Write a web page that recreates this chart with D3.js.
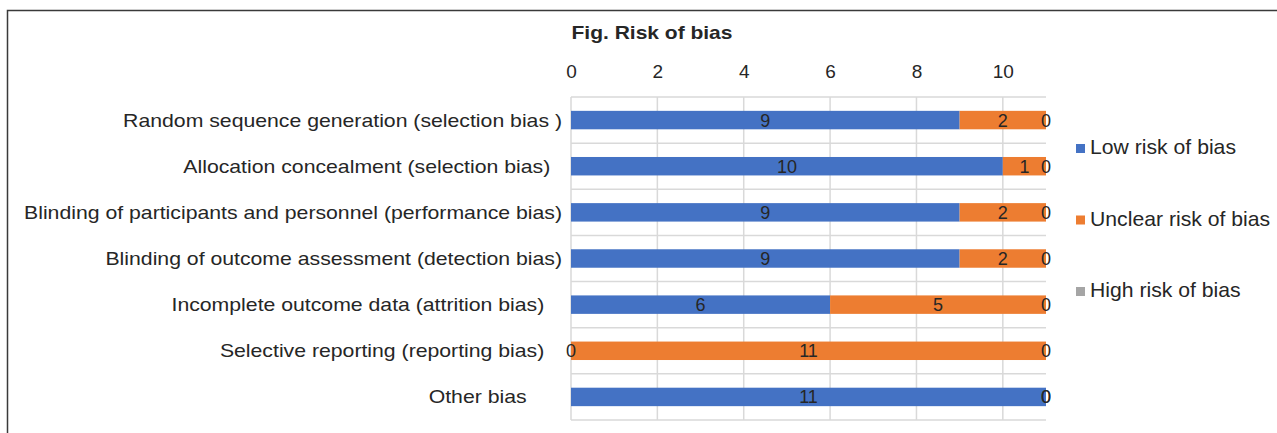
<!DOCTYPE html>
<html>
<head>
<meta charset="utf-8">
<script src="https://cdn.jsdelivr.net/npm/d3@7"></script>
<style>
  html, body { margin: 0; padding: 0; background: #fff; }
  svg { display: block; font-family: "Liberation Sans", Arial, sans-serif; }
</style>
</head>
<body>
<svg id="chart" width="1277" height="433"></svg>
<script>
// categories (trailing spaces kept as in the source sheet)
var categories = [
  'Random sequence generation (selection bias )',
  'Allocation concealment (selection bias)  ',
  'Blinding of participants and personnel (performance bias)',
  'Blinding of outcome assessment (detection bias)',
  'Incomplete outcome data (attrition bias)   ',
  'Selective reporting (reporting bias)   ',
  'Other bias      '
];
var seriesNames = ['Low risk of bias', 'Unclear risk of bias', 'High risk of bias'];
var lowRisk = [9, 10, 9, 9, 6, 0, 11];
var unclearRisk = [2, 1, 2, 2, 5, 11, 0];
var highRisk = [0, 0, 0, 0, 0, 0, 0];
var xTicks = [0, 2, 4, 6, 8, 10];
var colors = ['#4472C4', '#ED7D31', '#A5A5A5'];

(function() {
  'use strict';
  var svg = d3.select('#chart');
  var margin = {left: 571, right: 231, top: 97, bottom: 13};
  var width = 1277 - margin.left - margin.right;
  var height = 433 - margin.top - margin.bottom;
  var textColor = '#262626';

  // text in the source is drawn a bit wider than the font's natural width
  function place(px, py, sx) {
    return 'translate(' + px + ',' + py + ') scale(' + sx + ',1)';
  }

  // outer frame (top and left edges only are visible)
  svg.append('path')
    .attr('d', 'M7.5,433 V10.5 H1277')
    .attr('fill', 'none')
    .attr('stroke', '#3a3a3a')
    .attr('stroke-width', 1.5);

  svg.append('text')
    .attr('transform', place(652, 39, 1.2))
    .attr('text-anchor', 'middle')
    .attr('font-size', 17.5).attr('font-weight', 'bold')
    .attr('fill', textColor)
    .text('Fig. Risk of bias');

  var x = d3.scaleLinear().domain([0, 11]).range([0, width]);
  var y = d3.scaleBand().domain(categories).range([0, height]).paddingInner(0).paddingOuter(0);
  var barH = y.bandwidth() * 0.4;

  var g = svg.append('g').attr('transform', 'translate(' + margin.left + ',' + margin.top + ')');

  // vertical gridlines
  g.selectAll('.vgrid').data(xTicks).enter().append('line')
    .attr('x1', function(d) { return x(d); })
    .attr('x2', function(d) { return x(d); })
    .attr('y1', 0).attr('y2', height)
    .attr('stroke', '#d9d9d9').attr('stroke-width', 1.5);

  // horizontal separators between categories
  var bounds = categories.map(function(c) { return y(c); }).concat([height]);
  g.selectAll('.hgrid').data(bounds).enter().append('line')
    .attr('x1', 0).attr('x2', width)
    .attr('y1', function(d) { return d; })
    .attr('y2', function(d) { return d; })
    .attr('stroke', '#d9d9d9').attr('stroke-width', 1.5);

  // top axis
  var axis = d3.axisTop(x).tickValues(xTicks).tickSize(0).tickPadding(0);
  var ax = g.append('g').attr('transform', 'translate(0,-19)').call(axis);
  ax.select('.domain').remove();
  ax.selectAll('text').attr('font-size', 19).attr('fill', textColor)
    .attr('font-family', '"Liberation Sans", Arial, sans-serif');

  // stacked data
  var rows = categories.map(function(c, i) {
    return {cat: c, v0: lowRisk[i], v1: unclearRisk[i], v2: highRisk[i]};
  });
  var stack = d3.stack().keys(['v0', 'v1', 'v2']);
  var layers = stack(rows);

  var layerG = g.selectAll('.layer').data(layers).enter().append('g')
    .attr('fill', function(d, i) { return colors[i]; });
  layerG.selectAll('rect').data(function(d) { return d; }).enter().append('rect')
    .attr('x', function(d) { return x(d[0]); })
    .attr('width', function(d) { return x(d[1]) - x(d[0]); })
    .attr('y', function(d) { return y(d.data.cat) + (y.bandwidth() - barH) / 2; })
    .attr('height', barH);

  // data labels
  var lblG = g.append('g');
  layers.forEach(function(layer) {
    lblG.selectAll(null).data(layer).enter().append('text')
      .attr('x', function(d) { return x((d[0] + d[1]) / 2); })
      .attr('y', function(d) { return y(d.data.cat) + y.bandwidth() / 2; })
      .attr('dy', '0.36em')
      .attr('text-anchor', 'middle')
      .attr('font-size', 18)
      .attr('fill', textColor)
      .text(function(d) { return d[1] - d[0]; });
  });

  // category labels
  svg.append('g').selectAll('text').data(categories).enter().append('text')
    .attr('transform', function(d) {
      return place(margin.left - 9, margin.top + y(d) + y.bandwidth() / 2, 1.18);
    })
    .attr('dy', '0.36em')
    .attr('text-anchor', 'end')
    .attr('xml:space', 'preserve')
    .style('white-space', 'pre')
    .attr('font-size', 18)
    .attr('fill', textColor)
    .text(function(d) { return d; });

  // legend
  var legendY = d3.scalePoint().domain(seriesNames).range([147, 290]);
  var leg = svg.append('g').selectAll('g').data(seriesNames).enter().append('g')
    .attr('transform', function(d) { return 'translate(1076,' + legendY(d) + ')'; });
  leg.append('rect')
    .attr('x', 0).attr('y', -3).attr('width', 9).attr('height', 9)
    .attr('fill', function(d, i) { return colors[i]; });
  leg.append('text')
    .attr('transform', place(14, 0, 1.06))
    .attr('dy', '0.36em')
    .attr('font-size', 20).attr('fill', textColor)
    .text(function(d) { return d; });
})();
</script>
</body>
</html>
